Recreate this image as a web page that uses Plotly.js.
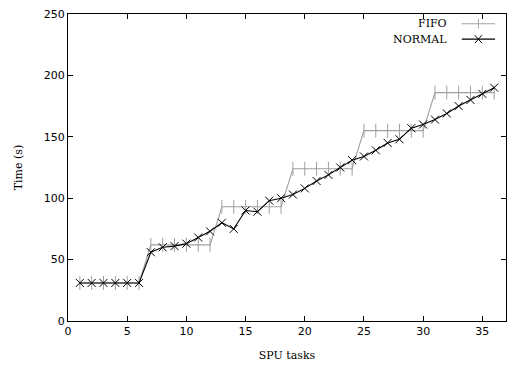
<!DOCTYPE html>
<html>
<head>
<meta charset="utf-8">
<script src="https://cdn.plot.ly/plotly-3.0.1.min.js"></script>
<style>
html,body{margin:0;padding:0;background:#fff;}
#chart{width:507px;height:371px;}
</style>
</head>
<body>
<div id="chart"></div>
<script>
const tasks = [1,2,3,4,5,6,7,8,9,10,11,12,13,14,15,16,17,18,19,20,21,22,23,24,25,26,27,28,29,30,31,32,33,34,35,36];
const fifo = [31,31,31,31,31,31,62,62,62,62,62,62,93,93,93,93,93,93,124,124,124,124,124,124,155,155,155,155,155,155,186,186,186,186,186,186];
const normal = [31,31,31,31,31,31,56,60,61,63,68,73,80,75,90,89,98,100,103,108,114,119,125,131,134,139,145,148,157,160,164,169,175,180,185,190];
const xTicks = [0,5,10,15,20,25,30,35];
const yTicks = [0,50,100,150,200,250];
const seriesNames = ["FIFO","NORMAL"];

const serif = "DejaVu Serif, Liberation Serif, serif";
const sans = "DejaVu Sans, Liberation Sans, sans-serif";

const traces = [
  {x: tasks, y: fifo, name: seriesNames[0], mode: "lines+markers", type: "scatter",
   line: {color: "#a0a0a0", width: 1.1},
   marker: {symbol: "line-ns-open", size: 10, color: "#a0a0a0", line: {color: "#a0a0a0", width: 1}}},
  {x: tasks, y: normal, name: seriesNames[1], mode: "lines+markers", type: "scatter",
   line: {color: "#000000", width: 1.1},
   marker: {symbol: "x-thin-open", size: 8, color: "#000000", line: {color: "#000000", width: 1}}}
];

const layout = {
  width: 507, height: 371,
  margin: {l: 68, r: 1, t: 14, b: 50},
  paper_bgcolor: "#fff", plot_bgcolor: "#fff",
  showlegend: false,
  xaxis: {
    range: [0, 37], tickvals: xTicks, ticktext: xTicks.map(String),
    ticks: "inside", ticklen: 5, tickcolor: "#000", mirror: "ticks",
    showline: true, linecolor: "#000", linewidth: 1, showgrid: false, zeroline: false,
    tickfont: {family: sans, size: 11, color: "#000"},
    title: {text: "SPU tasks", font: {family: serif, size: 11, color: "#000"}, standoff: 14}
  },
  yaxis: {
    range: [0, 250], tickvals: yTicks, ticktext: yTicks.map(String),
    ticks: "inside", ticklen: 5, tickcolor: "#000", mirror: "ticks",
    showline: true, linecolor: "#000", linewidth: 1, showgrid: false, zeroline: false,
    tickfont: {family: sans, size: 11, color: "#000"},
    title: {text: "Time (s)", font: {family: serif, size: 11, color: "#000"}, standoff: 18}
  },
  shapes: [
    {type: "line", xref: "paper", yref: "paper", x0: 0.899, x1: 0.975, y0: 0.968, y1: 0.968, line: {color: "#a0a0a0", width: 1.1}},
    {type: "line", xref: "paper", yref: "paper", x0: 0.937, x1: 0.937, y0: 0.952, y1: 0.984, line: {color: "#a0a0a0", width: 1}},
    {type: "line", xref: "paper", yref: "paper", x0: 0.899, x1: 0.975, y0: 0.918, y1: 0.918, line: {color: "#000", width: 1.1}},
    {type: "line", xref: "paper", yref: "paper", x0: 0.929, x1: 0.945, y0: 0.905, y1: 0.931, line: {color: "#000", width: 1}},
    {type: "line", xref: "paper", yref: "paper", x0: 0.929, x1: 0.945, y0: 0.931, y1: 0.905, line: {color: "#000", width: 1}}
  ],
  annotations: [
    {xref: "paper", yref: "paper", x: 0.869, y: 0.968, xanchor: "right", yanchor: "middle", showarrow: false,
     text: seriesNames[0], font: {family: serif, size: 11, color: "#000"}},
    {xref: "paper", yref: "paper", x: 0.869, y: 0.918, xanchor: "right", yanchor: "middle", showarrow: false,
     text: seriesNames[1], font: {family: serif, size: 11, color: "#000"}}
  ]
};

Plotly.newPlot("chart", traces, layout, {displayModeBar: false, staticPlot: true});
</script>
</body>
</html>
